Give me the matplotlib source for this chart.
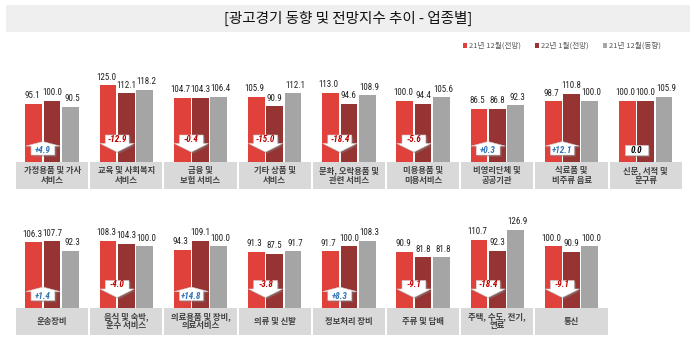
import matplotlib.pyplot as plt
import matplotlib.patheffects as pe
from matplotlib.patches import Rectangle, Polygon, Patch

plt.rcParams['font.family'] = ['Noto Sans CJK KR', 'DejaVu Sans']

# 업종별 지수: 21년 12월(전망), 22년 1월(전망), 21년 12월(동향)
row1_names = ['가정용품 및 가사\n서비스', '교육 및 사회복지\n서비스', '금융 및\n보험 서비스',
              '기타 상품 및\n서비스', '문화, 오락용품 및\n관련 서비스', '미용용품 및\n미용서비스',
              '비영리단체 및\n공공기관', '식료품 및\n비주류 음료', '신문, 서적 및\n문구류']
row1_dec_fcst = [95.1, 125.0, 104.7, 105.9, 113.0, 100.0, 86.5, 98.7, 100.0]
row1_jan_fcst = [100.0, 112.1, 104.3, 90.9, 94.6, 94.4, 86.8, 110.8, 100.0]
row1_dec_act = [90.5, 118.2, 106.4, 112.1, 108.9, 105.6, 92.3, 100.0, 105.9]

row2_names = ['운송장비', '음식 및 숙박,\n운수 서비스', '의료용품 및 장비,\n의료서비스', '의류 및 신발',
              '정보처리 장비', '주류 및 담배', '주택, 수도, 전기,\n연료', '통신']
row2_dec_fcst = [106.3, 108.3, 94.3, 91.3, 91.7, 90.9, 110.7, 100.0]
row2_jan_fcst = [107.7, 104.3, 109.1, 87.5, 100.0, 81.8, 92.3, 90.9]
row2_dec_act = [92.3, 100.0, 100.0, 91.7, 108.3, 81.8, 126.9, 100.0]

series_labels = ['21년 12월(전망)', '22년 1월(전망)', '21년 12월(동향)']
colors = ['#e0413a', '#963434', '#a5a5a5']

W, H = 700, 344
YMIN, YMAX = -44.5, 150
SCALE = 0.613  # px per index point
num_font = ['Roboto Condensed', 'Archivo Narrow', 'Asap Condensed', 'DejaVu Sans']
label_shift = [-0.025, 0.0, 0.025]  # 값 레이블 좌우 간격


def fig_box(left, top, width, height):
    return [left / W, 1 - (top + height) / H, width / W, height / H]


def draw_row(fig, baseline, names, s1, s2, s3):
    top = baseline - YMAX * SCALE
    ax = fig.add_axes(fig_box(15, top, 9 * 74.2, (YMAX - YMIN) * SCALE))
    ax.set_xlim(0, 9)
    ax.set_ylim(YMIN, YMAX)
    ax.axis('off')
    shadow = [pe.SimplePatchShadow(offset=(1.2, -1.2), shadow_rgbFace='#808080', alpha=0.5), pe.Normal()]
    for i, name in enumerate(names):
        # 업종명 박스
        ax.add_patch(Rectangle((i + 0.0135, YMIN), 0.973, -YMIN, facecolor='#d9d9d9',
                               edgecolor='none', zorder=0, clip_on=False))
        ax.text(i + 0.5, YMIN / 2, name, ha='center', va='center', fontsize=6.0,
                fontweight='bold', color='#404040', linespacing=1.05)
        vals = [s1[i], s2[i], s3[i]]
        for k, v in enumerate(vals):
            x = i + 0.5 + (k - 1) * 0.247
            ax.bar(x, v, width=0.225, color=colors[k], zorder=1)
            ax.text(x + label_shift[k], v + 6, f'{v:.1f}', ha='center', va='bottom',
                    fontsize=6.5, family=num_font, color='#222222')
        # 전월 전망 대비 증감 화살표
        diff = round(s2[i] - s1[i], 1)
        cx = i + 0.5 - 0.1235
        hw, bw = 0.23, 0.16
        if diff > 0:
            pts = [(cx - bw, 11.4), (cx + bw, 11.4), (cx + bw, 26), (cx + hw, 26),
                   (cx, 33.4), (cx - hw, 26), (cx - bw, 26)]
            ty, col, txt = 18.7, '#2e75b6', f'+{diff:.1f}'
        elif diff < 0:
            pts = [(cx - bw, 44), (cx + bw, 44), (cx + bw, 30.2), (cx + hw, 30.2),
                   (cx, 16.3), (cx - hw, 30.2), (cx - bw, 30.2)]
            ty, col, txt = 37, '#c00000', f'{diff:.1f}'
        else:
            pts = [(cx - bw, 11.4), (cx + bw, 11.4), (cx + bw, 27.7), (cx - bw, 27.7)]
            ty, col, txt = 19.5, '#000000', f'{diff:.1f}'
        arrow = Polygon(pts, closed=True, facecolor='white', edgecolor='#d0d0d0',
                        linewidth=0.4, zorder=3)
        arrow.set_path_effects(shadow)
        ax.add_patch(arrow)
        ax.text(cx, ty, txt, ha='center', va='center', fontsize=6.6, color=col,
                fontweight='bold', fontstyle='italic', family=num_font, zorder=4)
    return ax


fig = plt.figure(figsize=(W / 100, H / 100), dpi=100)

# 제목 영역
fig.patches.append(Rectangle((6 / W, 1 - 32 / H), 684 / W, 27 / H, transform=fig.transFigure,
                             facecolor='#efefef', edgecolor='none', zorder=0))
fig.text(348 / W, 1 - 18.5 / H, '[광고경기 동향 및 전망지수 추이 - 업종별]', ha='center',
         va='center', fontsize=10.5, color='#111111')

draw_row(fig, 162, row1_names, row1_dec_fcst, row1_jan_fcst, row1_dec_act)
draw_row(fig, 307.5, row2_names, row2_dec_fcst, row2_jan_fcst, row2_dec_act)

handles = [Patch(facecolor=c) for c in colors]
fig.legend(handles, series_labels, loc='center', bbox_to_anchor=(562 / W, 1 - 46 / H),
           ncol=3, frameon=False, fontsize=5.5, handlelength=0.55, handleheight=0.55,
           handletextpad=0.25, columnspacing=1.8, labelcolor='#595959')

fig.savefig('out.png', dpi=100)
